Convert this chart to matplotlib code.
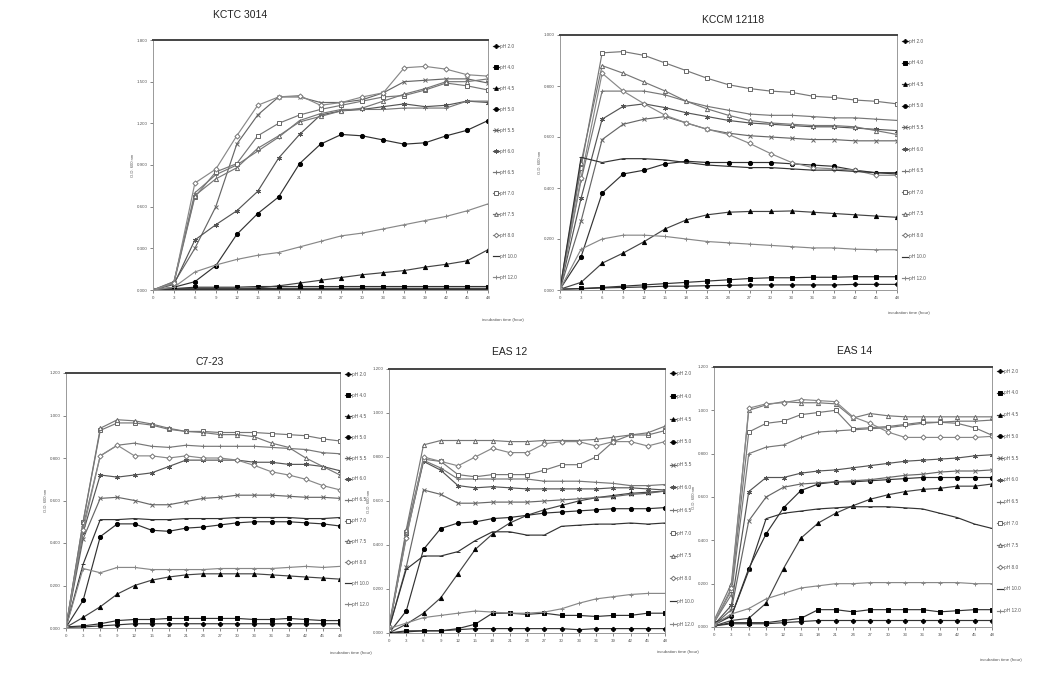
import matplotlib
matplotlib.use("Agg")
import matplotlib.pyplot as plt
from matplotlib import font_manager
from matplotlib.ticker import FormatStrFormatter

plt.rcParams['font.family'] = ['Liberation Sans', 'DejaVu Sans']
installed = {f.name for f in font_manager.fontManager.ttflist}
title_font = 'Liberation Sans Narrow' if 'Liberation Sans Narrow' in installed else 'Liberation Sans'

hours = list(range(0, 49, 3))
ph_labels = ['pH 2.0', 'pH 4.0', 'pH 4.5', 'pH 5.0', 'pH 5.5', 'pH 6.0',
             'pH 6.5', 'pH 7.0', 'pH 7.5', 'pH 8.0', 'pH 10.0', 'pH 12.0']

# KCTC 3014
kctc = [
    [0.0, 0.005, 0.005, 0.008, 0.01, 0.01, 0.012, 0.012, 0.012, 0.012, 0.012, 0.012, 0.012, 0.012, 0.012, 0.012, 0.012],
    [0.0, 0.01, 0.02, 0.02, 0.02, 0.025, 0.025, 0.025, 0.025, 0.025, 0.025, 0.025, 0.025, 0.025, 0.025, 0.025, 0.025],
    [0.0, 0.01, 0.01, 0.01, 0.01, 0.015, 0.03, 0.05, 0.07, 0.09, 0.11, 0.125, 0.14, 0.165, 0.185, 0.21, 0.29],
    [0.0, 0.02, 0.06, 0.175, 0.4, 0.55, 0.67, 0.91, 1.05, 1.12, 1.11, 1.08, 1.05, 1.06, 1.11, 1.15, 1.22],
    [0.0, 0.05, 0.3, 0.6, 1.05, 1.26, 1.39, 1.39, 1.35, 1.35, 1.37, 1.42, 1.5, 1.51, 1.52, 1.52, 1.49],
    [0.0, 0.04, 0.36, 0.47, 0.57, 0.71, 0.95, 1.12, 1.26, 1.29, 1.3, 1.32, 1.34, 1.32, 1.33, 1.36, 1.35],
    [0.0, 0.06, 0.7, 0.83, 0.9, 1.0, 1.1, 1.22, 1.27, 1.3, 1.3, 1.3, 1.31, 1.31, 1.31, 1.36, 1.36],
    [0.0, 0.05, 0.67, 0.85, 0.91, 1.11, 1.2, 1.26, 1.3, 1.33, 1.36, 1.39, 1.4, 1.44, 1.49, 1.47, 1.44],
    [0.0, 0.06, 0.68, 0.8, 0.88, 1.02, 1.11, 1.21, 1.25, 1.29, 1.31, 1.36, 1.41, 1.45, 1.5, 1.5, 1.52],
    [0.0, 0.05, 0.77, 0.87, 1.11, 1.33, 1.39, 1.4, 1.33, 1.35, 1.39, 1.42, 1.6, 1.61, 1.59, 1.55, 1.54],
    [0.0, 0.003, 0.003, 0.003, 0.003, 0.003, 0.003, 0.003, 0.003, 0.003, 0.003, 0.003, 0.003, 0.003, 0.003, 0.003, 0.003],
    [0.0, 0.02, 0.13, 0.18, 0.22, 0.25, 0.27, 0.31, 0.35, 0.39, 0.41, 0.44, 0.47, 0.5, 0.53, 0.57, 0.62],
]

# KCCM 12118
kccm = [
    [0.003, 0.005, 0.008, 0.01, 0.012, 0.015, 0.015, 0.017, 0.018, 0.02, 0.02, 0.02, 0.02, 0.02, 0.022, 0.022, 0.022],
    [0.003, 0.006, 0.01, 0.015, 0.02, 0.025, 0.03, 0.035, 0.04, 0.045, 0.048, 0.048, 0.05, 0.05, 0.052, 0.052, 0.052],
    [0.003, 0.03, 0.105, 0.145, 0.19, 0.24, 0.275, 0.295, 0.305, 0.308, 0.308, 0.31, 0.305, 0.3, 0.295, 0.29, 0.285],
    [0.003, 0.13, 0.38, 0.455, 0.47, 0.495, 0.505, 0.5, 0.5, 0.5, 0.5, 0.495, 0.49, 0.485, 0.47, 0.46, 0.46],
    [0.003, 0.27, 0.59, 0.65, 0.67, 0.68, 0.655, 0.63, 0.615, 0.605, 0.6, 0.595, 0.59, 0.59, 0.585, 0.585, 0.585],
    [0.003, 0.36, 0.67, 0.72, 0.73, 0.715, 0.695, 0.68, 0.665, 0.655, 0.65, 0.645, 0.64, 0.64, 0.635, 0.63, 0.625],
    [0.003, 0.43, 0.78, 0.78, 0.78, 0.765, 0.74, 0.72, 0.705, 0.69, 0.685, 0.685, 0.68, 0.675, 0.675, 0.67, 0.665],
    [0.003, 0.48, 0.93, 0.935, 0.92, 0.89, 0.86, 0.83, 0.805, 0.79, 0.78, 0.775, 0.76, 0.755, 0.745, 0.74, 0.73],
    [0.003, 0.5, 0.88, 0.85, 0.815, 0.78, 0.74, 0.71, 0.685, 0.665, 0.655, 0.65, 0.645, 0.645, 0.64, 0.625, 0.61],
    [0.003, 0.44, 0.85, 0.78, 0.73, 0.685, 0.655, 0.63, 0.61, 0.575, 0.535, 0.5, 0.48, 0.475, 0.47, 0.45, 0.45],
    [0.003, 0.52, 0.5, 0.515, 0.515, 0.51, 0.5, 0.49, 0.485, 0.48, 0.48, 0.475, 0.47, 0.47, 0.465, 0.46, 0.455],
    [0.003, 0.16, 0.2, 0.215, 0.215, 0.21, 0.2, 0.19, 0.185, 0.18, 0.175, 0.17, 0.165, 0.165, 0.16, 0.158, 0.158],
]

# C7-23
c723 = [
    [0.003, 0.005, 0.01, 0.015, 0.02, 0.02, 0.02, 0.02, 0.02, 0.02, 0.02, 0.02, 0.02, 0.02, 0.02, 0.02, 0.02],
    [0.005, 0.01, 0.02, 0.035, 0.04, 0.04, 0.045, 0.045, 0.045, 0.045, 0.045, 0.04, 0.04, 0.045, 0.04, 0.035, 0.035],
    [0.003, 0.05, 0.1, 0.16, 0.2, 0.225, 0.24, 0.25, 0.255, 0.255, 0.255, 0.255, 0.25, 0.245, 0.24, 0.235, 0.23],
    [0.003, 0.13, 0.43, 0.49, 0.49, 0.46, 0.455, 0.47, 0.475, 0.485, 0.495, 0.5, 0.5, 0.5, 0.495, 0.49, 0.48],
    [0.003, 0.42, 0.61, 0.615, 0.6, 0.58, 0.58, 0.595, 0.61, 0.615, 0.625, 0.625, 0.625, 0.62, 0.615, 0.615, 0.61],
    [0.003, 0.45, 0.72, 0.71, 0.72, 0.73, 0.76, 0.79, 0.79, 0.79, 0.79, 0.78, 0.78, 0.77, 0.77, 0.76, 0.74],
    [0.003, 0.48, 0.81, 0.86, 0.87, 0.855, 0.85, 0.86, 0.855, 0.855, 0.855, 0.855, 0.85, 0.845, 0.84, 0.825, 0.82],
    [0.003, 0.5, 0.93, 0.965, 0.965, 0.955, 0.935, 0.925, 0.925, 0.92, 0.92, 0.92, 0.915, 0.91, 0.905, 0.89, 0.88],
    [0.003, 0.5, 0.94, 0.98, 0.975, 0.96, 0.94, 0.925, 0.92, 0.91, 0.91, 0.9, 0.87, 0.85, 0.8, 0.76, 0.72],
    [0.003, 0.46, 0.81, 0.86, 0.81, 0.81, 0.8, 0.81, 0.8, 0.8, 0.79, 0.765, 0.735, 0.72, 0.7, 0.67, 0.65],
    [0.003, 0.3, 0.51, 0.51, 0.515, 0.51, 0.51, 0.515, 0.515, 0.515, 0.52, 0.52, 0.52, 0.52, 0.515, 0.515, 0.52],
    [0.003, 0.28, 0.26, 0.285, 0.285, 0.275, 0.275, 0.275, 0.275, 0.28, 0.28, 0.28, 0.28, 0.285, 0.29, 0.285, 0.29],
]

# EAS 12
eas12 = [
    [0.0, 0.005, 0.01, 0.01, 0.015, 0.02, 0.02, 0.02, 0.02, 0.02, 0.02, 0.015, 0.02, 0.02, 0.02, 0.02, 0.02],
    [0.0, 0.01, 0.01, 0.01, 0.02, 0.04, 0.09, 0.09, 0.085, 0.09, 0.08, 0.08, 0.075, 0.08, 0.08, 0.09, 0.09],
    [0.0, 0.04, 0.09, 0.16, 0.27, 0.38, 0.45, 0.5, 0.535, 0.56, 0.58, 0.6, 0.615, 0.625, 0.635, 0.64, 0.645],
    [0.0, 0.1, 0.38, 0.475, 0.5, 0.505, 0.52, 0.525, 0.535, 0.545, 0.55, 0.555, 0.56, 0.565, 0.565, 0.565, 0.57],
    [0.02, 0.3, 0.65, 0.63, 0.59, 0.59, 0.595, 0.595, 0.595, 0.6, 0.605, 0.61, 0.615, 0.62, 0.63, 0.635, 0.645],
    [0.02, 0.44, 0.78, 0.74, 0.67, 0.66, 0.665, 0.66, 0.655, 0.655, 0.655, 0.655, 0.655, 0.66, 0.66, 0.655, 0.65],
    [0.02, 0.45, 0.785, 0.75, 0.7, 0.7, 0.7, 0.7, 0.7, 0.69, 0.69, 0.69, 0.685, 0.68, 0.67, 0.67, 0.675],
    [0.02, 0.46, 0.79, 0.78, 0.72, 0.71, 0.72, 0.72, 0.72, 0.74, 0.765, 0.765, 0.8, 0.87, 0.9, 0.9, 0.92],
    [0.03, 0.47, 0.855, 0.875, 0.875, 0.875, 0.875, 0.87, 0.87, 0.875, 0.875, 0.875, 0.88, 0.89, 0.9, 0.91, 0.94],
    [0.03, 0.43, 0.8, 0.78, 0.76, 0.8, 0.84, 0.82, 0.82, 0.86, 0.87, 0.87, 0.85, 0.87, 0.87, 0.85, 0.87],
    [0.02, 0.29, 0.35, 0.35, 0.37, 0.42, 0.46, 0.46, 0.445, 0.445, 0.485, 0.49, 0.495, 0.495, 0.5, 0.495, 0.5],
    [0.02, 0.045, 0.07, 0.08, 0.09, 0.1, 0.095, 0.09, 0.09, 0.095, 0.11, 0.135, 0.155, 0.165, 0.175, 0.18, 0.18],
]

# EAS 14
eas14 = [
    [0.005, 0.015, 0.015, 0.015, 0.02, 0.025, 0.03, 0.03, 0.03, 0.03, 0.03, 0.03, 0.03, 0.03, 0.03, 0.03, 0.03],
    [0.005, 0.02, 0.02, 0.02, 0.03, 0.04, 0.08, 0.08, 0.07, 0.08, 0.08, 0.08, 0.08, 0.07, 0.075, 0.08, 0.08],
    [0.005, 0.03, 0.04, 0.11, 0.27, 0.41, 0.48, 0.525, 0.56, 0.59, 0.61, 0.625, 0.635, 0.64, 0.65, 0.65, 0.66],
    [0.01, 0.05, 0.27, 0.43, 0.55, 0.63, 0.66, 0.67, 0.67, 0.675, 0.68, 0.685, 0.69, 0.69, 0.69, 0.69, 0.69],
    [0.01, 0.08, 0.49, 0.6, 0.645, 0.66, 0.665, 0.67, 0.675, 0.68, 0.69, 0.7, 0.705, 0.715, 0.72, 0.72, 0.725],
    [0.01, 0.1, 0.625, 0.69, 0.69, 0.71, 0.72, 0.725, 0.735, 0.745, 0.755, 0.765, 0.77, 0.775, 0.78, 0.79, 0.795],
    [0.02, 0.15, 0.8, 0.83, 0.84, 0.875, 0.9, 0.905, 0.91, 0.915, 0.92, 0.93, 0.94, 0.945, 0.95, 0.95, 0.955],
    [0.02, 0.17, 0.9, 0.94, 0.95, 0.98, 0.99, 1.0, 0.915, 0.92, 0.925, 0.935, 0.945, 0.945, 0.94, 0.92, 0.885],
    [0.03, 0.2, 1.0, 1.025, 1.04, 1.035, 1.035, 1.03, 0.965, 0.985, 0.975, 0.97, 0.97, 0.97, 0.97, 0.97, 0.97],
    [0.02, 0.18, 1.01, 1.03, 1.035, 1.05, 1.045, 1.04, 0.97, 0.94, 0.9, 0.875, 0.875, 0.875, 0.875, 0.875, 0.88],
    [0.02, 0.05, 0.26, 0.5, 0.525, 0.535, 0.545, 0.55, 0.555, 0.555, 0.555, 0.55, 0.545, 0.525, 0.505, 0.475, 0.455],
    [0.01, 0.06, 0.085, 0.13, 0.155, 0.18, 0.19, 0.2, 0.2, 0.205, 0.205, 0.205, 0.205, 0.205, 0.205, 0.2, 0.2],
]

asterisk = (6, 2, 0)
# marker, face colour, edge colour, line colour, size
styles = [
    ('P', 'black', 'black', '#333333', 3.0),
    ('s', 'black', 'black', '#333333', 3.0),
    ('^', 'black', 'black', '#444444', 3.0),
    ('o', 'black', 'black', '#333333', 3.0),
    ('x', 'none', '#666666', '#666666', 3.0),
    (asterisk, 'none', '#555555', '#555555', 3.5),
    ('+', 'none', '#777777', '#777777', 3.5),
    ('s', 'white', '#666666', '#777777', 3.0),
    ('^', 'white', '#666666', '#777777', 3.0),
    ('D', 'white', '#777777', '#888888', 2.6),
    ('_', 'none', '#333333', '#333333', 3.5),
    ('+', 'none', '#888888', '#888888', 3.5),
]

W, H = 1057, 673
fig = plt.figure(figsize=(W / 100, H / 100), dpi=100)


def px_axes(l, t, r, b):
    return fig.add_axes([l / W, 1 - b / H, (r - l) / W, (b - t) / H])


panels = [
    # name, data, box (l, t, r, b), ymax, title pos, legend top px, pitch px, xlabel pos
    ('KCTC 3014', kctc, (153, 40, 488, 290), 1.8, (240, 15), 52, 20.7, (482, 320)),
    ('KCCM 12118', kccm, (560, 35, 897, 290), 1.0, (733, 20), 47, 21.3, (888, 313)),
    ('C7-23', c723, (66, 373, 340, 628), 1.2, (210, 362), 380, 20.6, (330, 653)),
    ('EAS 12', eas12, (389, 369, 665, 633), 1.2, (510, 352), 380, 22.5, (657, 652)),
    ('EAS 14', eas14, (714, 367, 992, 627), 1.2, (855, 351), 377, 21.5, (980, 660)),
]

for name, data, box, ymax, tpos, leg_top, pitch, xlpos in panels:
    l, t, r, b = box
    ax = px_axes(l, t, r, b)
    for lab, vals, st in zip(ph_labels, data, styles):
        mk, fc, ec, lc, ms = st
        ax.plot(hours, vals, color=lc, lw=0.85, marker=mk, ms=ms,
                mfc=fc, mec=ec, mew=0.7, label=lab)
    ax.set_xlim(0, 48)
    ax.set_ylim(0, ymax)
    ax.set_xticks(hours)
    step = 0.3 if ymax > 1.5 else 0.2
    yt = [round(i * step, 3) for i in range(int(round(ymax / step)) + 1)]
    ax.set_yticks(yt)
    ax.yaxis.set_major_formatter(FormatStrFormatter('%.3f'))
    ax.tick_params(labelsize=3.2, length=2, width=0.5, colors='#555555', pad=2)
    for side in ['left', 'right', 'bottom']:
        ax.spines[side].set_color('#999999')
        ax.spines[side].set_linewidth(0.7)
    ax.spines['top'].set_color('#444444')
    ax.spines['top'].set_linewidth(1.4)
    ax.set_ylabel('O.D. 600 nm', fontsize=3, color='#555555', labelpad=1)

    fs = 3.4
    fs_px = fs * 100 / 72
    leg = ax.legend(loc='upper left', frameon=False, fontsize=fs,
                    bbox_to_anchor=((r + 3) / W, 1 - (leg_top - pitch / 2) / H),
                    bbox_transform=fig.transFigure,
                    handlelength=1.2, handletextpad=0.2, borderpad=0,
                    labelspacing=pitch / fs_px - 1.0, markerscale=0.9)
    for txt in leg.get_texts():
        txt.set_color('#555555')

    fig.text(tpos[0] / W, 1 - tpos[1] / H, name, fontsize=7.5, ha='center',
             va='center', color='#222222', family=title_font)
    fig.text(xlpos[0] / W, 1 - xlpos[1] / H, 'incubation time (hour)',
             fontsize=3.2, ha='left', va='center', color='#555555')

fig.savefig('out.png', dpi=100)
